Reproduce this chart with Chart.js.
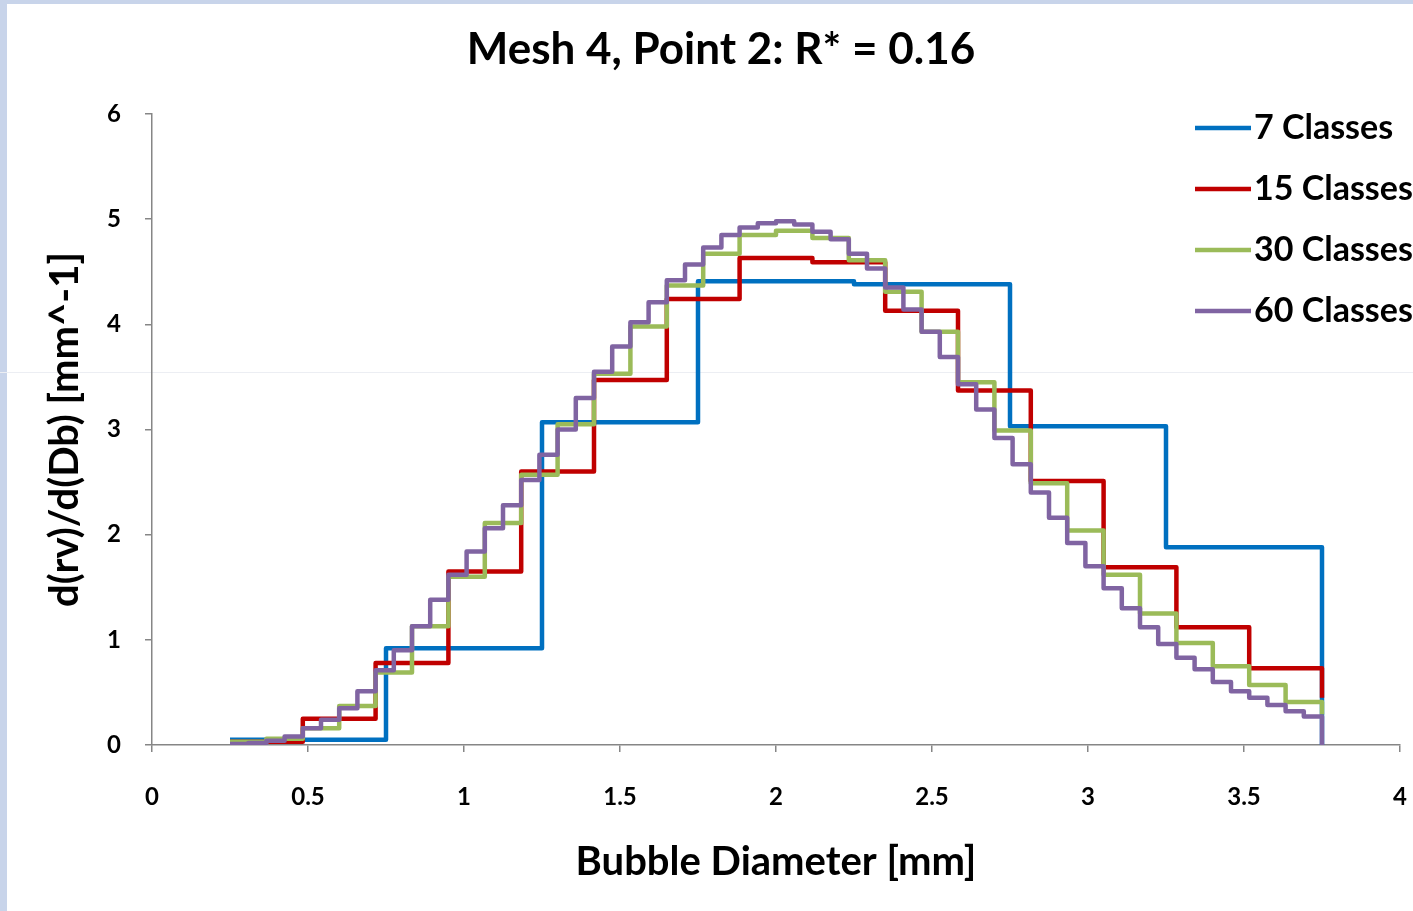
<!DOCTYPE html>
<html>
<head>
<meta charset="utf-8">
<title>Mesh 4, Point 2</title>
<script src="https://cdn.jsdelivr.net/npm/chart.js@4.4.1/dist/chart.umd.min.js"></script>
<style>
    html, body { margin: 0; padding: 0; }
    body { width: 1413px; height: 911px; background: #c8d4ea; position: relative; overflow: hidden; }
    #panel { position: absolute; left: 7px; top: 4px; right: 0; bottom: 0; background: #fff; }
    #seam { position: absolute; left: 0; right: 0; top: 372px; height: 1px; background: #eceef3; }
    #chart-wrap { position: absolute; left: 0; top: 0; width: 1413px; height: 911px; }
</style>
</head>
<body>
<div id="panel"></div>
<div id="seam"></div>
<div id="chart-wrap"><canvas id="size-chart" width="1413" height="911"></canvas></div>
<script>
var chartTitle = 'Mesh 4, Point 2: R* = 0.16';
var xTitle = 'Bubble Diameter [mm]';
var yTitle = 'd(rv)/d(Db) [mm^-1]';

// diameter range covered by the classes
var xStart = 0.25;
var xEnd = 3.75;

var seriesNames = ['7 Classes', '15 Classes', '30 Classes', '60 Classes'];
var seriesColors = ['#0070c0', '#c00000', '#9bbb59', '#8064a2'];

// density per class, left to right
var classes7 = [0.05, 0.92, 3.07, 4.41, 4.38, 3.03, 1.88];
var classes15 = [0.03, 0.25, 0.78, 1.65, 2.60, 3.47, 4.24, 4.63, 4.59, 4.13,
                 3.37, 2.51, 1.69, 1.12, 0.73];
var classes30 = [0.03, 0.06, 0.16, 0.37, 0.69, 1.13, 1.60, 2.11, 2.57, 3.05,
                 3.53, 3.98, 4.37, 4.67, 4.85, 4.89, 4.82, 4.61, 4.31, 3.93,
                 3.45, 2.99, 2.49, 2.04, 1.62, 1.25, 0.97, 0.75, 0.57, 0.41];
var classes60 = [0.01, 0.02, 0.04, 0.08, 0.16, 0.24, 0.35, 0.51, 0.71, 0.90,
                 1.13, 1.38, 1.62, 1.84, 2.06, 2.28, 2.52, 2.76, 3.00, 3.30,
                 3.55, 3.79, 4.02, 4.21, 4.42, 4.57, 4.73, 4.85, 4.92, 4.96,
                 4.98, 4.95, 4.88, 4.81, 4.67, 4.53, 4.35, 4.14, 3.93, 3.69,
                 3.43, 3.19, 2.92, 2.67, 2.40, 2.16, 1.92, 1.70, 1.49, 1.30,
                 1.12, 0.96, 0.83, 0.72, 0.60, 0.51, 0.45, 0.38, 0.32, 0.27];

// value each curve drops to at the last edge
var endValues = [0, 0.45, 0.29, 0];

var allClasses = [classes7, classes15, classes30, classes60];

// one point per left class edge, plus the closing edge
function stepPoints(values, endValue) {
    var width = (xEnd - xStart) / values.length;
    var points = values.map(function(v, i) {
        return {x: xStart + i * width, y: v};
    });
    points.push({x: xEnd, y: values[values.length - 1]});
    points.push({x: xEnd, y: endValue});
    return points;
}

var datasets = allClasses.map(function(values, i) {
    return {
        label: seriesNames[i],
        data: stepPoints(values, endValues[i]),
        borderColor: seriesColors[i],
        borderWidth: 4.5,
        borderJoinStyle: 'round',
        pointRadius: 0,
        stepped: true,
        fill: false,
        order: allClasses.length - i
    };
});

var fontFamily = 'Lato, "Open Sans", sans-serif';
var axisGray = '#868686';

// title and the key sitting over the top right of the plot
var headerAndKey = {
    id: 'headerAndKey',
    afterDraw: function(chart) {
        var ctx = chart.ctx;
        ctx.save();
        ctx.fillStyle = '#000';
        ctx.textAlign = 'center';
        ctx.textBaseline = 'middle';
        ctx.font = 'bold 44px ' + fontFamily;
        ctx.fillText(chartTitle, 721, 50);

        ctx.textAlign = 'left';
        ctx.font = 'bold 34px ' + fontFamily;
        chart.data.datasets.forEach(function(ds, i) {
            var y = 128 + i * 61;
            ctx.strokeStyle = ds.borderColor;
            ctx.lineWidth = 4.5;
            ctx.beginPath();
            ctx.moveTo(1195, y);
            ctx.lineTo(1251, y);
            ctx.stroke();
            ctx.fillText(ds.label, 1254, y);
        });
        ctx.restore();
    }
};

new Chart(document.getElementById('size-chart'), {
    type: 'line',
    data: {datasets: datasets},
    plugins: [headerAndKey],
    options: {
        responsive: false,
        animation: false,
        devicePixelRatio: 1,
        layout: {padding: {left: 0, right: 13, top: 114, bottom: 0}},
        plugins: {
            legend: {display: false},
            tooltip: {enabled: false}
        },
        scales: {
            x: {
                type: 'linear',
                min: 0,
                max: 4,
                afterFit: function(scale) {
                    scale.height = 166;
                    scale.paddingLeft = 0;
                    scale.paddingRight = 0;
                },
                ticks: {
                    stepSize: 0.5,
                    color: '#000',
                    padding: 31,
                    font: {family: fontFamily, size: 24, weight: 'bold'},
                    callback: function(value) { return String(value); }
                },
                grid: {drawOnChartArea: false, tickLength: 7, color: axisGray, lineWidth: 1.5},
                border: {color: axisGray, width: 1.5},
                title: {
                    display: true,
                    text: xTitle,
                    color: '#000',
                    font: {family: fontFamily, size: 40, weight: 'bold'},
                    padding: {bottom: 25}
                }
            },
            y: {
                min: 0,
                max: 6,
                afterFit: function(scale) { scale.width = 152; },
                ticks: {
                    stepSize: 1,
                    color: '#000',
                    padding: 24,
                    font: {family: fontFamily, size: 24, weight: 'bold'},
                    callback: function(value) { return String(value); }
                },
                grid: {drawOnChartArea: false, tickLength: 7, color: axisGray, lineWidth: 1.5},
                border: {color: axisGray, width: 1.5},
                title: {
                    display: true,
                    text: yTitle,
                    color: '#000',
                    font: {family: fontFamily, size: 40, weight: 'bold'},
                    padding: {top: 41}
                }
            }
        }
    }
});
</script>
</body>
</html>
